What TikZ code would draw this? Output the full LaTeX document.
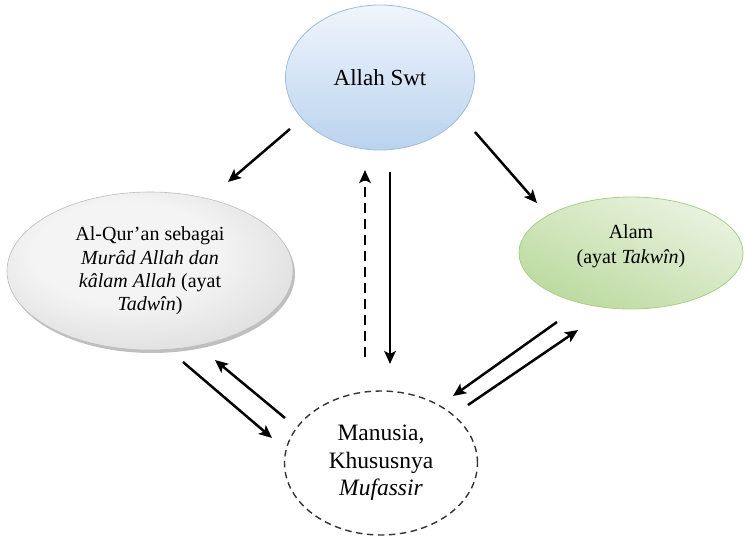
\documentclass[tikz,border=0pt]{standalone}
\usepackage{fontspec}
\setmainfont{Liberation Serif}
\usetikzlibrary{shapes.geometric,arrows.meta,calc,shadows}
\definecolor{blueTop}{HTML}{F0F5FC}
\definecolor{blueBot}{HTML}{BAD3EE}
\definecolor{blueEdge}{HTML}{9CBCE0}
\definecolor{grayIn}{HTML}{F4F4F4}
\definecolor{grayMid}{HTML}{DEDEDE}
\definecolor{grayOut}{HTML}{C0C0C0}
\definecolor{grayEdge}{HTML}{BDBDBD}
\definecolor{greenTop}{HTML}{E9F3E0}
\definecolor{greenBot}{HTML}{BCDA9F}
\definecolor{greenEdge}{HTML}{A9CF8A}
\pgfdeclareradialshading{quranshade}{\pgfpoint{-6bp}{8bp}}{%
  color(0bp)=(grayIn); color(16bp)=(grayIn); color(32bp)=(grayMid);
  color(44bp)=(grayOut); color(60bp)=(grayOut)}
\begin{document}
\begin{tikzpicture}[x=1pt,y=-1pt,
  oval/.style={ellipse, inner sep=0pt, align=center, text=black},
  arr/.style={line width=2.5pt, draw=black, -{Stealth[length=13pt,width=11.5pt,inset=3pt]}},
  darr/.style={arr, dash pattern=on 10pt off 6pt}]
\useasboundingbox (0,0) rectangle (745,538);

\node[oval, draw=blueEdge, line width=0.8pt, top color=blueTop, bottom color=blueBot,
  minimum width=189pt, minimum height=145pt, font=\fontsize{23}{27}\selectfont]
  (allah) at (380,77.5) {Allah Swt};

\node[oval, draw=grayEdge, line width=0.6pt, shading=quranshade,
  drop shadow={shadow xshift=2pt, shadow yshift=-3pt, fill=black, opacity=0.25},
  minimum width=286pt, minimum height=158pt, font=\fontsize{20}{23.3}\selectfont]
  (quran) at (150,271) {Al-Qur’an sebagai\\ \textit{Murâd Allah dan}\\ \textit{kâlam Allah} (ayat\\ \textit{Tadwîn})};

\node[oval, draw=greenEdge, line width=0.8pt,
  top color=greenTop, bottom color=greenBot, shading angle=-25,
  minimum width=224pt, minimum height=112pt, font=\fontsize{20}{25}\selectfont]
  (alam) at (631,253) {\raisebox{2pt}[0pt][0pt]{\begin{tabular}{@{}c@{}}Alam\\ (ayat \textit{Takwîn})\end{tabular}}};

\node[oval, draw=black!80, line width=1.4pt, dash pattern=on 6.5pt off 4.5pt, fill=white,
  minimum width=193pt, minimum height=144pt, font=\fontsize{23.5}{27.5}\selectfont]
  (manusia) at (381,463) {Manusia,\\ Khususnya\\ \textit{Mufassir}};

\draw[arr] ($(allah.center)+(-90,51.5)$) -- ($(quran.center)+(78,-89)$);
\draw[arr] ($(allah.center)+(95,54.5)$) -- ($(alam.center)+(-94,-50)$);
\draw[darr] ($(manusia.center)+(-16,-106)$) -- ($(allah.center)+(-15,92.5)$);
\draw[arr] ($(allah.center)+(10,94.5)$) -- ($(manusia.center)+(9,-99)$);
\draw[arr] ($(quran.center)+(33,91)$) -- ($(manusia.center)+(-109,-25)$);
\draw[arr] ($(manusia.center)+(-96,-45)$) -- ($(quran.center)+(65,89)$);
\draw[arr] ($(alam.center)+(-74,69)$) -- ($(manusia.center)+(72,-67)$);
\draw[arr] ($(manusia.center)+(87,-58)$) -- ($(alam.center)+(-53,77)$);
\end{tikzpicture}
\end{document}
